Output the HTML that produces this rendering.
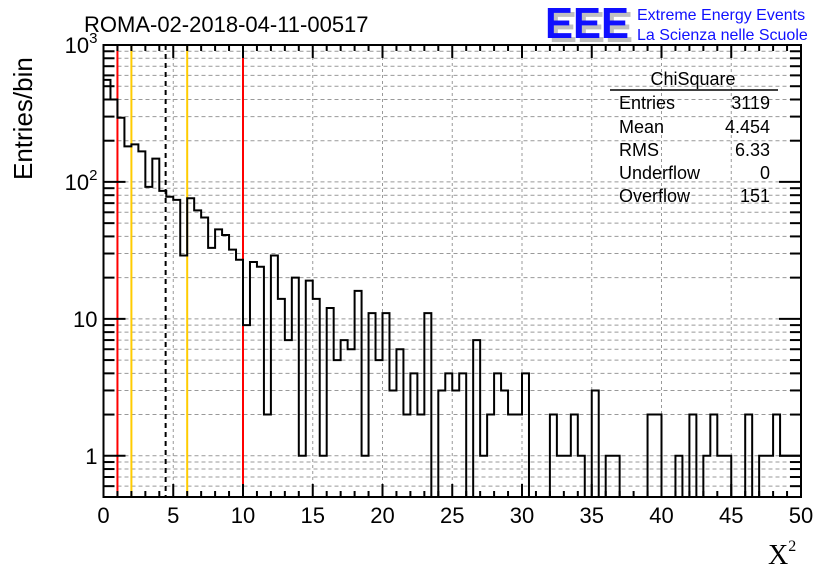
<!DOCTYPE html>
<html><head><meta charset="utf-8"><style>
html,body{margin:0;padding:0;background:#fff;}
svg{display:block;font-family:"Liberation Sans",sans-serif;}
</style></head><body>
<svg id="c" width="836" height="572" viewBox="0 0 836 572">
<text x="84" y="32" font-size="22">ROMA-02-2018-04-11-00517</text>
<g>
<text x="549" y="42" font-size="44" font-weight="bold" fill="#c0c0c0" textLength="84" lengthAdjust="spacingAndGlyphs">EEE</text>
<text x="545" y="38" font-size="44" font-weight="bold" fill="#1010ff" textLength="84" lengthAdjust="spacingAndGlyphs">EEE</text>
<text x="637" y="20" font-size="16" fill="#1010ff">Extreme Energy Events</text>
<text x="637" y="40" font-size="16" fill="#1010ff">La Scienza nelle Scuole</text>
</g>
<text x="0" y="0" font-size="26" transform="translate(32,180) rotate(-90)">Entries/bin</text>
<text x="768" y="564" font-size="28" font-family="Liberation Serif">X<tspan font-size="16" dy="-13">2</tspan></text>
<g id="grid"></g><g id="marks"></g><g id="axes"></g>
<g font-size="18">
<text x="693" y="85" text-anchor="middle">ChiSquare</text>
<line x1="610" y1="90" x2="778" y2="90" stroke="#000" stroke-width="1.5"/>
<text x="619" y="109">Entries</text><text x="770" y="109" text-anchor="end">3119</text>
<text x="619" y="133">Mean</text><text x="770" y="133" text-anchor="end">4.454</text>
<text x="619" y="156">RMS</text><text x="770" y="156" text-anchor="end">6.33</text>
<text x="619" y="179">Underflow</text><text x="770" y="179" text-anchor="end">0</text>
<text x="619" y="202">Overflow</text><text x="770" y="202" text-anchor="end">151</text>
</g>
</svg>
<script>
const binWidth = 0.5;
const counts = [556,400,294,182,188,167,92,148,86,78,74,29,76,62,55,33,45,41,32,27,
9,26,24,2,29,14,7,20,1,19,14,1,12,5,7,6,16,1,11,5,
11,3,6,2,4,2,11,0,3,4,3,4,0,7,1,2,4,3,2,2,
4,0,0,0,2,1,1,2,1,0,3,0,1,1,0,0,0,0,2,2,
0,0,1,0,2,0,1,2,1,1,0,0,2,0,1,1,2,1,1,1];
const xTicks = [0,5,10,15,20,25,30,35,40,45,50];
const yTicks = [1,10,100,1000];
const yTickLabels = ["1","10","10²","10³"];
const refLines = [{v:1,c:"#ff0000",d:""},{v:10,c:"#ff0000",d:""},{v:2,c:"#ffcc00",d:""},{v:6,c:"#ffcc00",d:""},{v:4.454,c:"#000",d:"5,4"}];
const L=103.5,R=801,T=45,B=497,xmin=0,xmax=50,ymin=0.5,ymax=1000;
const xs=v=>L+(v-xmin)/(xmax-xmin)*(R-L);
const ys=v=>{const lv=Math.log10(Math.max(v,ymin));return B-(lv-Math.log10(ymin))/(Math.log10(ymax)-Math.log10(ymin))*(B-T);};
const NS="http://www.w3.org/2000/svg";
function mk(p,t,a){const e=document.createElementNS(NS,t);for(const k in a)e.setAttribute(k,a[k]);p.appendChild(e);return e;}
const grid=document.getElementById('grid'),marks=document.getElementById('marks'),axes=document.getElementById('axes');
for(const t of xTicks){if(t===xmin||t===xmax)continue;const g=mk(grid,'line',{x1:xs(t),x2:xs(t),y1:T,y2:B,stroke:'#999','stroke-dasharray':'3,3'});

}
for(let d=-1;d<3;d++)for(let m=1;m<10;m++){const v=m*Math.pow(10,d);if(v<=ymin||v>=ymax)continue;
const g=mk(grid,'line',{x1:L,x2:R,y1:ys(v),y2:ys(v),stroke:'#999','stroke-dasharray':'4,3'});

}
for(const r of refLines){const a={x1:xs(r.v),x2:xs(r.v),y1:T,y2:B,stroke:r.c,'stroke-width':2};if(r.d)a['stroke-dasharray']=r.d;const l=mk(marks,'line',a);

}
let d='M'+xs(0)+','+B;
counts.forEach((c,i)=>{const y=c>0?ys(c):B+5;d+=' L'+xs(i*binWidth)+','+y+' L'+xs((i+1)*binWidth)+','+y;});
d+=' L'+xs(counts.length*binWidth)+','+B;
const h=mk(marks,'path',{d:d,fill:'none',stroke:'#000','stroke-width':2});


mk(marks,'rect',{x:L-2,y:B+1,width:R-L+4,height:8,fill:'#fff'});
const f=mk(axes,'rect',{x:L,y:T,width:R-L,height:B-T,fill:'none',stroke:'#000','stroke-width':2});


for(let v=0;v<=50;v+=1){const len=v%5===0?13:6;
mk(axes,'line',{x1:xs(v),x2:xs(v),y1:B,y2:B-len,stroke:'#000','stroke-width':2});
mk(axes,'line',{x1:xs(v),x2:xs(v),y1:T,y2:T+len,stroke:'#000','stroke-width':2});}
xTicks.forEach(t=>{const tx=mk(axes,'text',{x:xs(t),y:B+26,'font-size':22,'text-anchor':'middle'});tx.textContent=t;

});
for(let dd=-1;dd<3;dd++)for(let m=1;m<10;m++){const v=m*Math.pow(10,dd);if(v<ymin||v>ymax)continue;const len=m===1?22:11;
mk(axes,'line',{x1:L,x2:L+len,y1:ys(v),y2:ys(v),stroke:'#000','stroke-width':2});
mk(axes,'line',{x1:R,x2:R-len,y1:ys(v),y2:ys(v),stroke:'#000','stroke-width':2});}
yTicks.forEach((t,i)=>{const tx=mk(axes,'text',{x:L-6,y:ys(t)+8,'font-size':22,'text-anchor':'end'});
const lab=yTickLabels[i];
if(lab.length>2){tx.textContent='10';const s=mk(tx,'tspan',{dy:-10,'font-size':15});s.textContent=lab==='10²'?'2':'3';}else tx.textContent=lab;

});
</script>
</body></html>
